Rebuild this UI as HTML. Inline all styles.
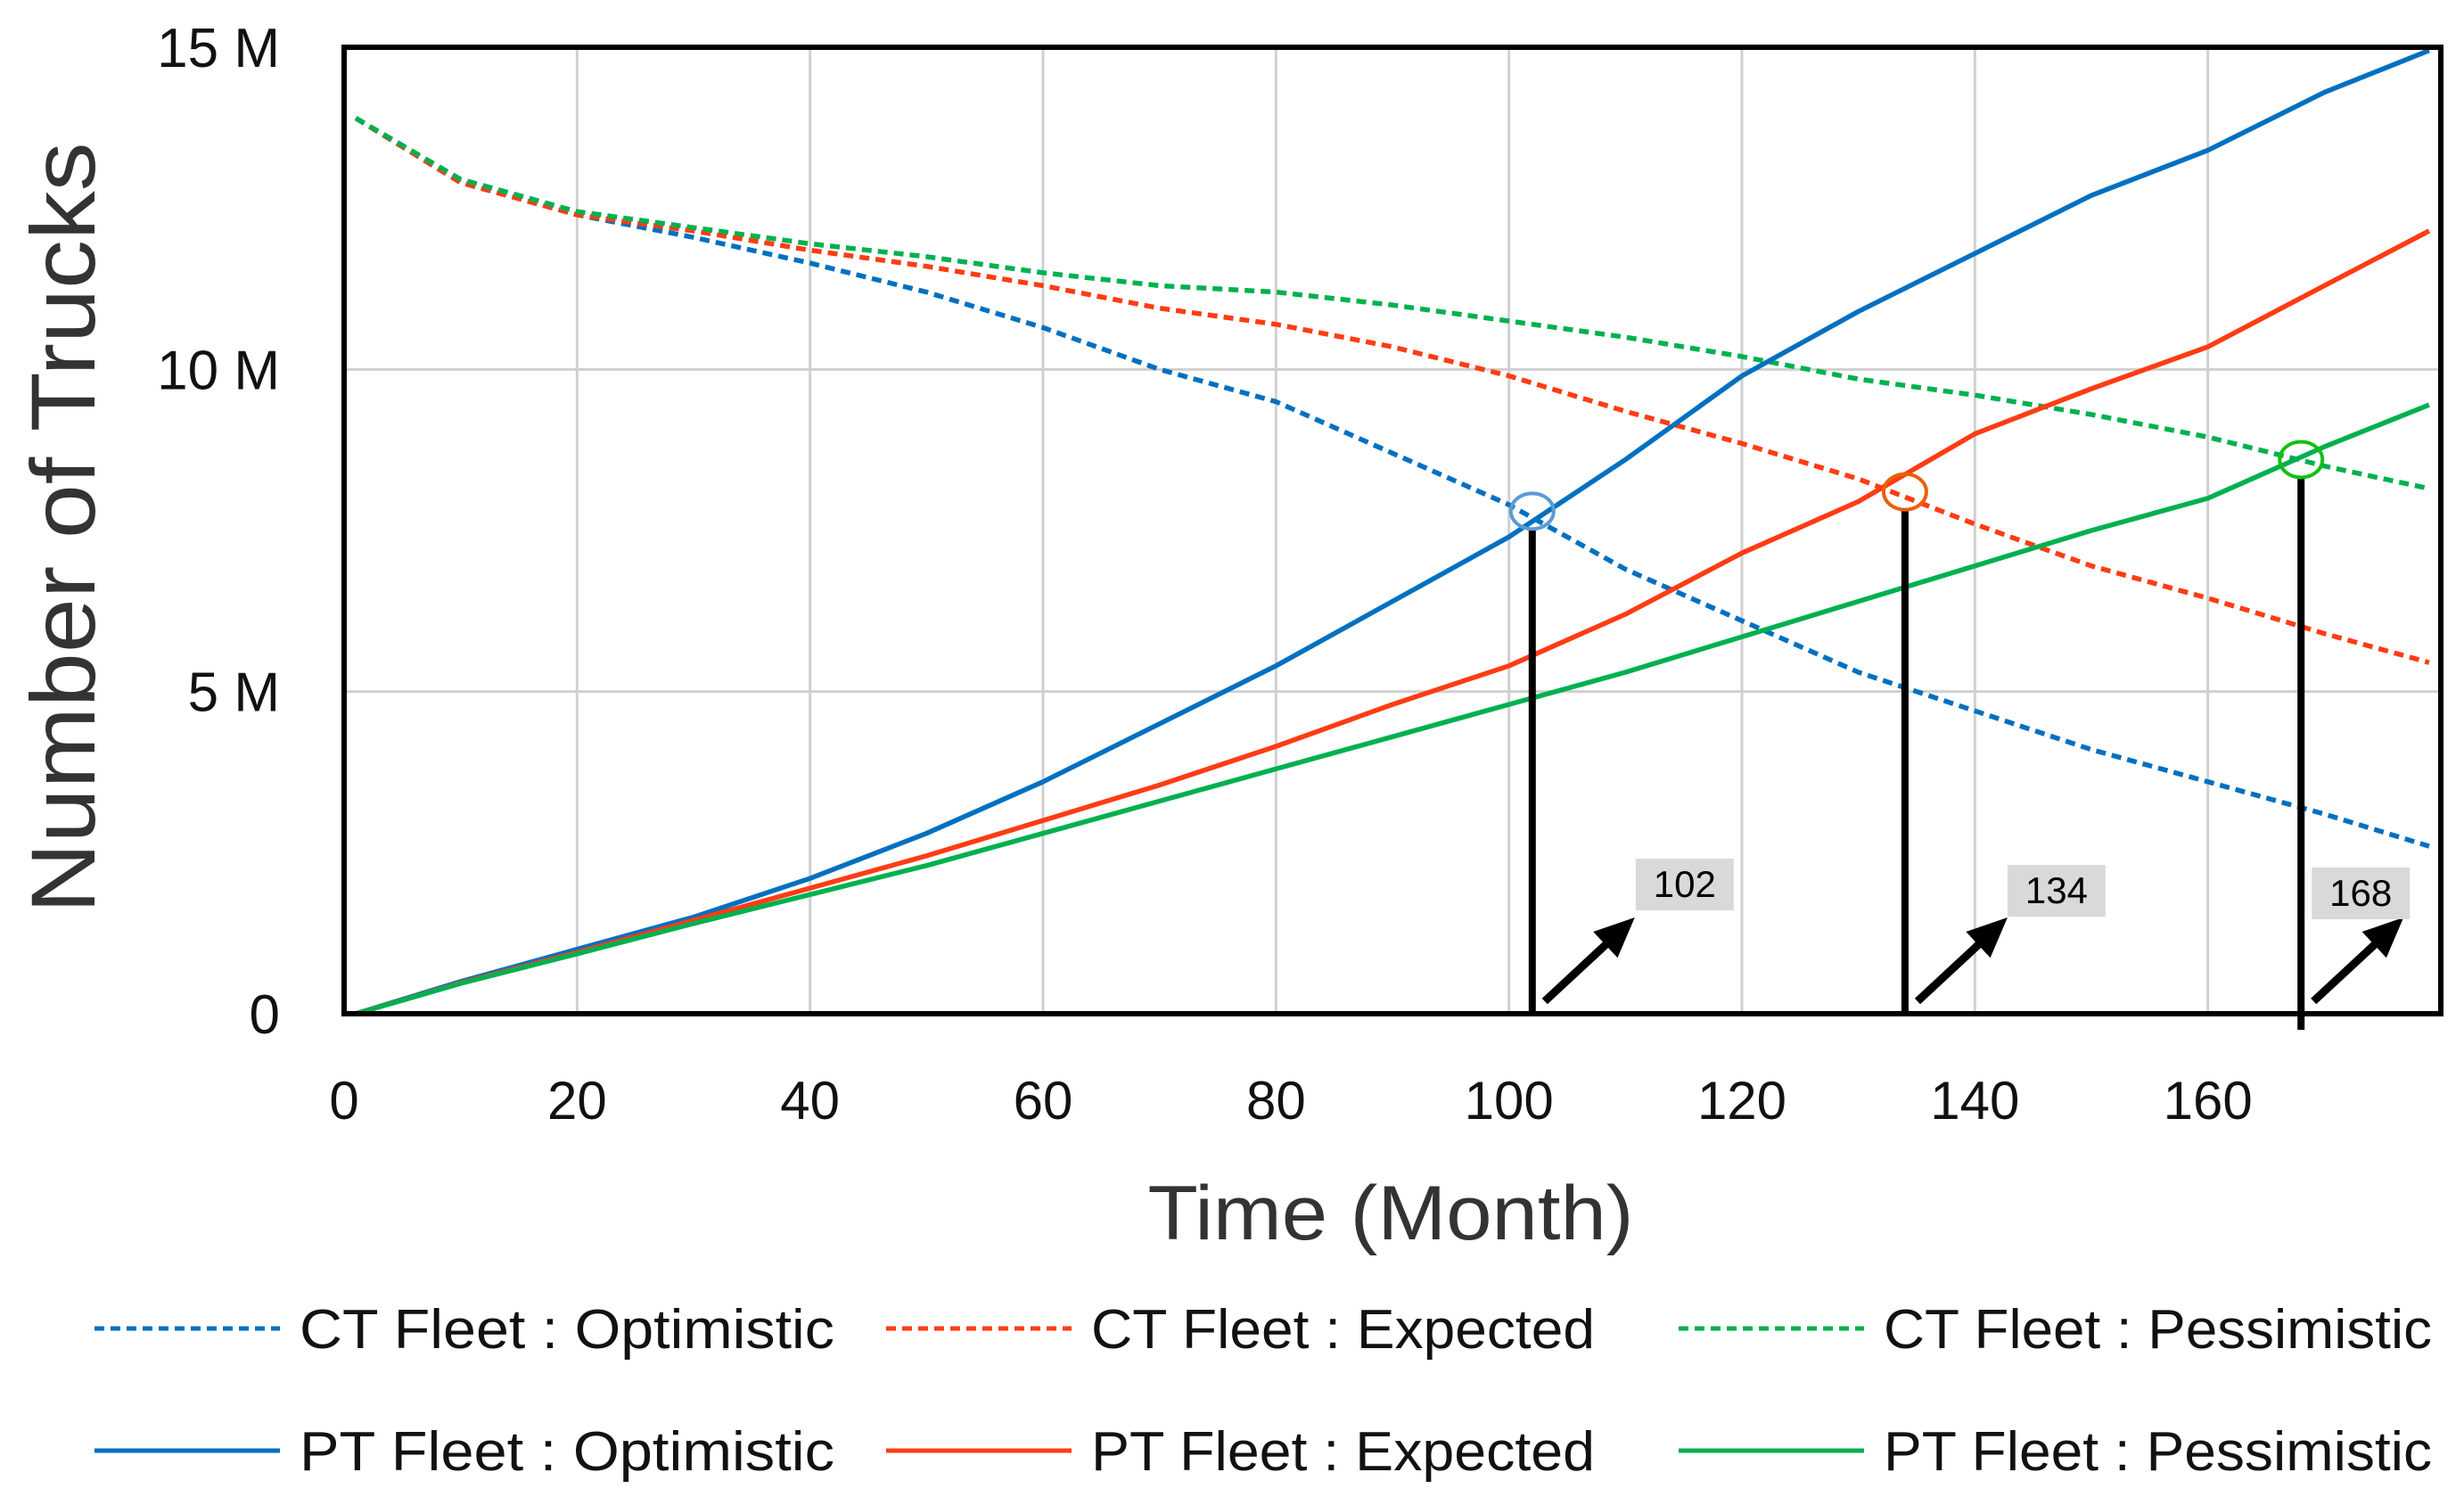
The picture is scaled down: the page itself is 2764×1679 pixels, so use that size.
<!DOCTYPE html>
<html><head><meta charset="utf-8">
<style>
html,body{margin:0;padding:0;background:#fff;}
svg{display:block;font-family:"Liberation Sans",sans-serif;}
</style></head>
<body>
<svg id="chart" width="2764" height="1679" viewBox="0 0 2764 1679" xmlns="http://www.w3.org/2000/svg"></svg>
<script>
const months = [1,10,20,30,40,50,60,70,80,90,100,110,120,130,140,150,160,170,179];
const ctOptimistic = [13.9,12.9,12.4,12.05,11.65,11.2,10.65,10.0,9.5,8.7,7.9,6.9,6.1,5.3,4.7,4.1,3.6,3.1,2.6];
const ctExpected = [13.9,12.9,12.4,12.15,11.85,11.6,11.3,10.95,10.7,10.35,9.9,9.35,8.85,8.3,7.6,6.95,6.45,5.9,5.45];
const ctPessimistic = [13.9,12.95,12.45,12.2,11.95,11.75,11.5,11.3,11.2,11.0,10.75,10.5,10.2,9.85,9.6,9.3,8.95,8.5,8.15];
const ptOptimistic = [0,0.5,1.0,1.5,2.1,2.8,3.6,4.5,5.4,6.4,7.4,8.6,9.9,10.9,11.8,12.7,13.4,14.3,14.95];
const ptExpected = [0,0.48,0.95,1.45,1.95,2.45,3.0,3.55,4.15,4.8,5.4,6.2,7.15,7.95,9.0,9.7,10.35,11.3,12.15];
const ptPessimistic = [0,0.47,0.93,1.4,1.85,2.3,2.8,3.3,3.8,4.3,4.8,5.3,5.85,6.4,6.95,7.5,8.0,8.8,9.45];
const xTicks = [0,20,40,60,80,100,120,140,160];
const yTicks = [0,5,10,15];
const yTickLabels = ["0","5 M","10 M","15 M"];
const crossMonths = [102,134,168];
const crossValues = [7.8,8.1,8.6];
const crossLabels = ["102","134","168"];

const NS="http://www.w3.org/2000/svg";
const svg=document.getElementById('chart');
const L=386,R=2738,T=53,B=1137,XMAX=180,YMAX=15;
const xs=v=>L+(v/XMAX)*(R-L);
const ys=v=>B-(v/YMAX)*(B-T);
function mk(tag,attrs,parent){const e=document.createElementNS(NS,tag);for(const k in attrs)e.setAttribute(k,attrs[k]);(parent||svg).appendChild(e);return e;}

// grid
xTicks.forEach(t=>{ if(t===0) return;
  const g=mk('line',{x1:xs(t),x2:xs(t),y1:T,y2:B,stroke:'#d0d0d0','stroke-width':3});
  
  
});
yTicks.forEach(t=>{ if(t===0||t===YMAX) return;
  const g=mk('line',{x1:L,x2:R,y1:ys(t),y2:ys(t),stroke:'#d0d0d0','stroke-width':3});
  
  
});

// series
const series=[
 {name:'ct-optimistic-line',data:ctOptimistic,color:'#0070c0',dash:'11 7'},
 {name:'ct-expected-line',data:ctExpected,color:'#ff3c14',dash:'11 7'},
 {name:'ct-pessimistic-line',data:ctPessimistic,color:'#00b050',dash:'11 7'},
 {name:'pt-optimistic-line',data:ptOptimistic,color:'#0070c0',dash:''},
 {name:'pt-expected-line',data:ptExpected,color:'#ff3c14',dash:''},
 {name:'pt-pessimistic-line',data:ptPessimistic,color:'#00b050',dash:''}
];
series.forEach(s=>{
  const d=s.data.map((v,i)=>(i?'L':'M')+xs(months[i]).toFixed(1)+','+ys(v).toFixed(1)).join(' ');
  const p=mk('path',{d:d,fill:'none',stroke:s.color,'stroke-width':5.5,'stroke-dasharray':s.dash,'stroke-linejoin':'round'});
  
  
});

// crossover markers
const circleColors=['#5b9bd5','#e8600a','#10c010'];
const boxDx=[116,115,12], boxYs=[963,970,973];
crossMonths.forEach((m,i)=>{
  const cx=xs(m),cy=ys(crossValues[i]);
  const ln=mk('line',{x1:cx,x2:cx,y1:cy+19,y2:(i===2?B+18:B),stroke:'#000','stroke-width':8});
  
  
  const c=mk('ellipse',{cx:cx,cy:cy,rx:24,ry:20,fill:'none',stroke:circleColors[i],'stroke-width':4});
  
  
  const ax=cx+14, ay=B-14, bx=cx+115, by=B-108;
  const ar=mk('line',{x1:ax,y1:ay,x2:bx-18,y2:by+17,stroke:'#000','stroke-width':9});
  
  
  const ang=Math.atan2(by-ay,bx-ax);
  const hl=45,hw=20;
  const p1x=bx-hl*Math.cos(ang)+hw*Math.sin(ang),p1y=by-hl*Math.sin(ang)-hw*Math.cos(ang);
  const p2x=bx-hl*Math.cos(ang)-hw*Math.sin(ang),p2y=by-hl*Math.sin(ang)+hw*Math.cos(ang);
  const head=mk('polygon',{points:`${bx},${by} ${p1x},${p1y} ${p2x},${p2y}`,fill:'#000'});
  
  
  const boxX=cx+boxDx[i], boxY=boxYs[i];
  const bg=mk('rect',{x:boxX,y:boxY,width:110,height:58,fill:'#d9d9d9'});
  
  
  const tx=mk('text',{x:boxX+55,y:boxY+43,'text-anchor':'middle','font-size':42,fill:'#000'});
  tx.textContent=crossLabels[i];
  
  
});

// frame
const fr=mk('rect',{x:L,y:T,width:R-L,height:B-T,fill:'none',stroke:'#000','stroke-width':6});



// tick labels
xTicks.forEach(t=>{
  const e=mk('text',{x:xs(t),y:1255,'text-anchor':'middle','font-size':60,fill:'#111'});
  e.textContent=t;
  
  
});
yTicks.forEach((t,i)=>{
  const e=mk('text',{x:314,y:ys(t)+22,'text-anchor':'end','font-size':62,fill:'#111'});
  e.textContent=yTickLabels[i];
  
  
});

// titles
const xt=mk('text',{x:1560,y:1390,'text-anchor':'middle','font-size':86,fill:'#333',textLength:545,lengthAdjust:'spacingAndGlyphs'});
xt.textContent='Time (Month)';


const yt=mk('text',{x:0,y:0,'text-anchor':'middle','font-size':102,fill:'#333',textLength:865,lengthAdjust:'spacingAndGlyphs',transform:'translate(106,592) rotate(-90)'});
yt.textContent='Number of Trucks';



// legend
const legend=[
 {label:'CT Fleet : Optimistic',color:'#0070c0',dash:'11 7',x:106,y:1490,w:595},
 {label:'CT Fleet : Expected',color:'#ff3c14',dash:'11 7',x:994,y:1490,w:560},
 {label:'CT Fleet : Pessimistic',color:'#00b050',dash:'11 7',x:1883,y:1490,w:610},
 {label:'PT Fleet : Optimistic',color:'#0070c0',dash:'',x:106,y:1627,w:595},
 {label:'PT Fleet : Expected',color:'#ff3c14',dash:'',x:994,y:1627,w:560},
 {label:'PT Fleet : Pessimistic',color:'#00b050',dash:'',x:1883,y:1627,w:610}
];
legend.forEach(l=>{
  const g=mk('g',{});
  
  
  mk('line',{x1:l.x,x2:l.x+208,y1:l.y,y2:l.y,stroke:l.color,'stroke-width':5,'stroke-dasharray':l.dash},g);
  const t=mk('text',{x:l.x+230,y:l.y+22,'font-size':62,fill:'#111',textLength:l.w+5,lengthAdjust:'spacingAndGlyphs'},g);
  t.textContent=l.label;
});
</script>
</body></html>
